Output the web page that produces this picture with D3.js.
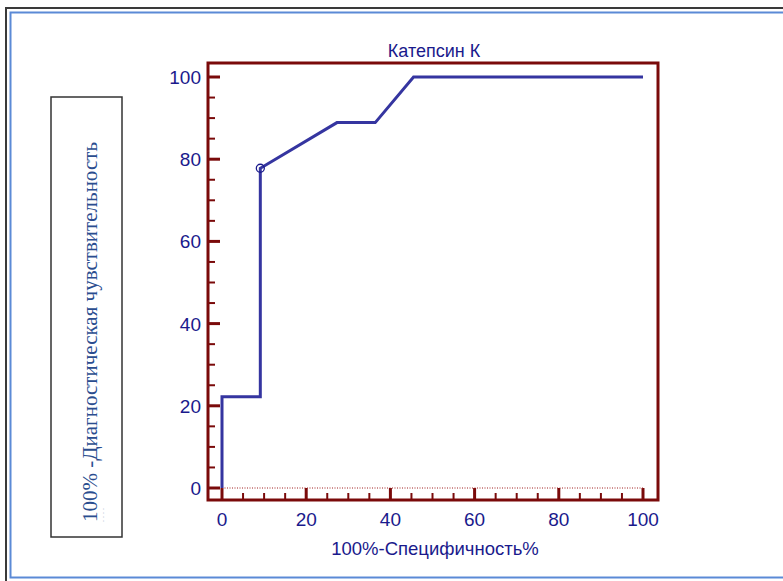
<!DOCTYPE html>
<html>
<head>
    <script src="https://d3js.org/d3.v7.min.js"></script>
    <style>
        body { margin: 0; background: #fff; }
    </style>
</head>
<body>
    <div id="chart"></div>
    <script>
        // ROC curve points (100%-specificity, sensitivity)
        var fpr = [0, 0, 9.1, 9.1, 27.3, 36.4, 45.5, 100];
        var tpr = [0, 22.2, 22.2, 77.8, 88.9, 88.9, 100, 100];
        var cutPoint = [9.1, 77.8];
        var xTicks = [0, 20, 40, 60, 80, 100];
        var yTicks = [0, 20, 40, 60, 80, 100];
        var minorTicks = d3.range(0, 101, 5);

        var W = 783, H = 581;
        var svg = d3.select("#chart").append("svg")
            .attr("width", W).attr("height", H);

        // outer frame
        svg.append("rect").attr("x", 6).attr("y", 8).attr("width", W + 10).attr("height", H)
            .attr("fill", "none").attr("stroke", "#3a3a3a").attr("stroke-width", 2);
        svg.append("rect").attr("x", 10.5).attr("y", 12.5).attr("width", W + 10).attr("height", 565)
            .attr("fill", "none").attr("stroke", "#5b8ad6").attr("stroke-width", 2);

        var x = d3.scaleLinear().domain([0, 100]).range([222, 643]);
        var y = d3.scaleLinear().domain([0, 100]).range([488, 77]);
        var pLeft = 208, pRight = 658, pTop = 63, pBottom = 500;
        var axisColor = "#7a0a0a", textColor = "#1a1a8c", lineColor = "#3535a0";
        var sans = "Liberation Sans, Arial, sans-serif";

        // title
        svg.append("text").attr("x", 434).attr("y", 57)
            .attr("text-anchor", "middle")
            .style("font-family", sans)
            .style("font-size", "18px").attr("fill", textColor)
            .text("Катепсин К");

        // plot frame
        svg.append("rect").attr("x", pLeft).attr("y", pTop)
            .attr("width", pRight - pLeft).attr("height", pBottom - pTop)
            .attr("fill", "none").attr("stroke", axisColor).attr("stroke-width", 3);

        // y ticks (inward)
        svg.append("g").selectAll("line").data(minorTicks).join("line")
            .attr("x1", pLeft).attr("x2", function(d) { return pLeft + (d % 20 === 0 ? 12 : 7); })
            .attr("y1", function(d) { return y(d); }).attr("y2", function(d) { return y(d); })
            .attr("stroke", axisColor).attr("stroke-width", function(d) { return d % 20 === 0 ? 3 : 2; });
        svg.append("g").selectAll("text").data(yTicks).join("text")
            .attr("x", pLeft - 7).attr("y", function(d) { return y(d) + 7; })
            .attr("text-anchor", "end")
            .style("font-family", sans)
            .style("font-size", "19px").attr("fill", textColor)
            .text(function(d) { return d; });

        // x ticks (inward)
        svg.append("g").selectAll("line").data(minorTicks).join("line")
            .attr("x1", function(d) { return x(d); }).attr("x2", function(d) { return x(d); })
            .attr("y1", pBottom).attr("y2", function(d) { return pBottom - (d % 20 === 0 ? 12 : 7); })
            .attr("stroke", axisColor).attr("stroke-width", function(d) { return d % 20 === 0 ? 3 : 2; });
        svg.append("g").selectAll("text").data(xTicks).join("text")
            .attr("x", function(d) { return x(d); }).attr("y", 526)
            .attr("text-anchor", "middle")
            .style("font-family", sans)
            .style("font-size", "19px").attr("fill", textColor)
            .text(function(d) { return d; });

        svg.append("text").attr("x", 435).attr("y", 555)
            .attr("text-anchor", "middle")
            .style("font-family", sans)
            .style("font-size", "18.5px").attr("fill", textColor)
            .text("100%-Специфичность%");

        // dotted reference at 0
        svg.append("line").attr("x1", x(0)).attr("x2", x(100))
            .attr("y1", y(0)).attr("y2", y(0))
            .attr("stroke", "#a02020").attr("stroke-width", 1)
            .attr("stroke-dasharray", "1,1.5");

        // ROC line
        var pts = fpr.map(function(d, i) { return [d, tpr[i]]; });
        svg.append("path").datum(pts)
            .attr("d", d3.line().x(function(d) { return x(d[0]); }).y(function(d) { return y(d[1]); }))
            .attr("fill", "none").attr("stroke", lineColor).attr("stroke-width", 3);

        svg.append("circle").attr("cx", x(cutPoint[0])).attr("cy", y(cutPoint[1])).attr("r", 4)
            .attr("fill", "none").attr("stroke", "#1a1a8c").attr("stroke-width", 1.3);

        // y label box
        svg.append("rect").attr("x", 51).attr("y", 97).attr("width", 71).attr("height", 440)
            .attr("fill", "#fff").attr("stroke", "#333").attr("stroke-width", 1.5);
        svg.append("text")
            .attr("transform", "translate(97,522) rotate(-90)")
            .style("font-family", "Liberation Serif, Times New Roman, serif")
            .style("font-size", "21px").attr("fill", "#2a4d8f")
            .text("100% -Диагностическая чувствительность");
        svg.append("text")
            .attr("transform", "translate(104,522) rotate(-90)")
            .style("font-family", "Liberation Serif, serif")
            .style("font-size", "8px").attr("fill", "#9aa8c0")
            .text(". . . .");
    </script>
</body>
</html>
